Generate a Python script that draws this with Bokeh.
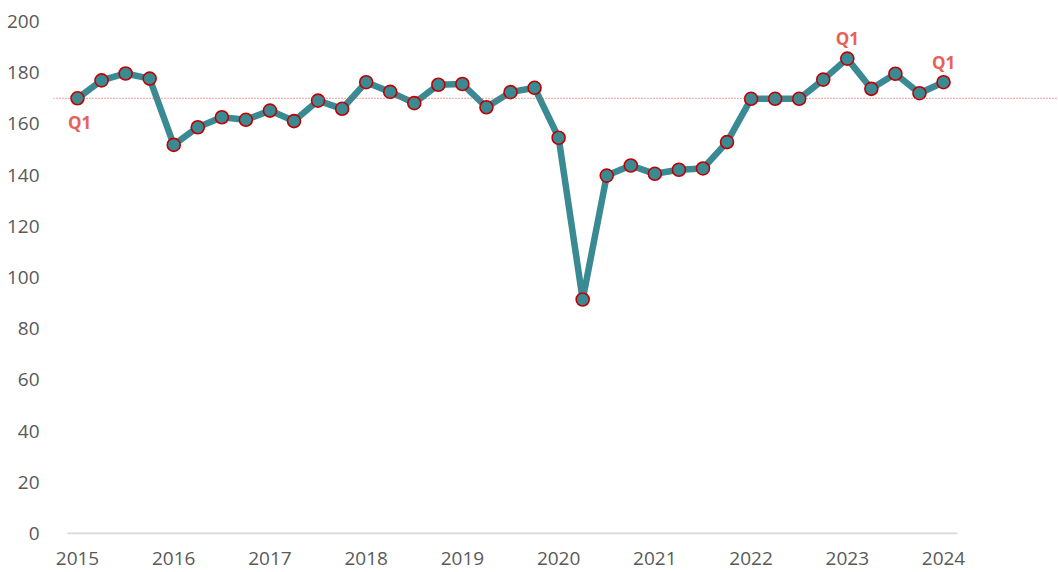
from bokeh.plotting import figure
from bokeh.models import ColumnDataSource, Span, FixedTicker, Range1d
from bokeh.core.properties import value
from bokeh.embed import file_html
from bokeh.resources import INLINE

years = ["2015", "2016", "2017", "2018", "2019", "2020", "2021", "2022", "2023", "2024"]
quarters = [f"{y} Q{q}" for y in years[:-1] for q in range(1, 5)] + ["2024 Q1"]
values = [170.0, 177.0, 179.7, 177.7,
          151.8, 158.7, 162.6, 161.6,
          165.2, 161.1, 169.1, 165.9,
          176.3, 172.5, 168.1, 175.3,
          175.6, 166.5, 172.4, 174.1,
          154.6, 91.4, 139.8, 143.75,
          140.5, 142.1, 142.6, 152.9,
          169.8, 169.8, 169.8, 177.3,
          185.5, 173.7, 179.6, 172.0,
          176.3]
y_ticks = [0, 20, 40, 60, 80, 100, 120, 140, 160, 180, 200]
below_labels = ["2015 Q1"]
above_labels = ["2023 Q1", "2024 Q1"]

x = list(range(len(values)))
FONT = "Open Sans"
TEAL = "#3A8A94"

p = figure(width=1058, height=572, output_backend="svg", toolbar_location=None,
           x_range=Range1d(-0.998, 40.78), y_range=Range1d(-0.39, 205.08),
           min_border_left=53, min_border_right=0, min_border_top=8, min_border_bottom=38)
p.outline_line_color = None
p.grid.grid_line_color = None
p.background_fill_color = "white"
p.border_fill_color = "white"

# axes
p.yaxis.ticker = FixedTicker(ticks=y_ticks)
p.yaxis.axis_line_color = None
p.yaxis.major_tick_line_color = None
p.yaxis.minor_tick_line_color = None
p.yaxis.major_label_standoff = 8
p.yaxis.major_label_text_font = FONT
p.yaxis.major_label_text_font_size = "19px"
p.yaxis.major_label_text_color = "#595959"

year_ticks = [i for i, q in enumerate(quarters) if q.endswith("Q1")]
p.xaxis.ticker = FixedTicker(ticks=year_ticks)
p.xaxis.major_label_overrides = {i: quarters[i][:4] for i in year_ticks}
p.xaxis.axis_line_color = None
p.xaxis.major_tick_line_color = None
p.xaxis.minor_tick_line_color = None
p.xaxis.major_label_standoff = 11
p.xaxis.major_label_text_font = FONT
p.xaxis.major_label_text_font_size = "19px"
p.xaxis.major_label_text_color = "#595959"

# baseline along category extent
p.line([x[0] - 0.42, x[-1] + 0.58], [0, 0], line_color="#D9D9D9", line_width=2)

# reference line at first value
p.add_layout(Span(location=values[0], dimension="width", line_color="#E8403A",
                  line_width=1, line_dash="1 2"))

src = ColumnDataSource(dict(x=x, y=values, q=quarters))
p.line("x", "y", source=src, line_color=TEAL, line_width=6.5, line_join="round")
p.scatter("x", "y", source=src, size=13, fill_color=TEAL, line_color="#C00000", line_width=1.6)

def label_src(names):
    idx = [quarters.index(n) for n in names]
    return ColumnDataSource(dict(x=[x[i] for i in idx], y=[values[i] for i in idx],
                                 t=[quarters[i][-2:] for i in idx]))

common = dict(text="t", text_font=value(FONT), text_font_style="bold", text_font_size="17px",
              text_color="#E8605A", text_align="center", text_baseline="middle")
p.text("x", "y", source=label_src(below_labels), y_offset=24, x_offset=2, **common)
p.text("x", "y", source=label_src(above_labels), y_offset=-20, **common)

open("out.html", "w").write(file_html(p, INLINE))
